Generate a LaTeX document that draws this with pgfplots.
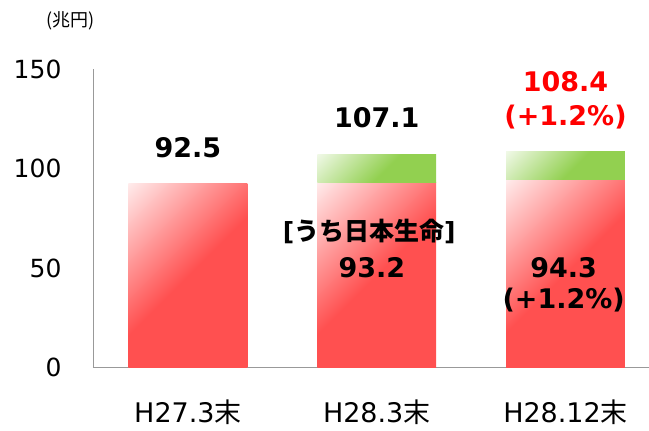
\documentclass[border=0pt]{standalone}
\usepackage{pgfplots}
\pgfplotsset{compat=1.18}
\usepackage{fontspec}
\setmainfont{DejaVu Sans}
\newfontfamily\cjk{Noto Sans CJK JP}
\definecolor{labred}{RGB}{255,0,0}
\pgfdeclarehorizontalshading{redfade}{100bp}{rgb(0bp)=(1,1,1); rgb(10bp)=(1,1,1); rgb(50bp)=(1,0.3137,0.3137); rgb(100bp)=(1,0.3137,0.3137)}
\pgfdeclarehorizontalshading{greenfade}{100bp}{rgb(0bp)=(1,1,1); rgb(8bp)=(1,1,1); rgb(55bp)=(0.5725,0.8157,0.3137); rgb(100bp)=(0.5725,0.8157,0.3137)}
\tikzset{lab/.style={font=\bfseries\fontsize{27}{30}\selectfont}}
\pgfplotsset{
 common/.style={at={(93pt,63pt)}, anchor=south west, scale only axis, width=556pt, height=299pt,
  xmin=-0.503, xmax=2.44, ymin=0, ymax=150, clip=false},
 redbar/.style={draw=none, shade, shading=redfade, shading angle=-45},
 greenbar/.style={draw=none, shade, shading=greenfade, shading angle=-45},
}
\begin{document}
\begin{tikzpicture}
\path (0,0) rectangle (649pt,431pt);
% main axis with red (Nippon Life) bars
\begin{axis}[common,
 ybar, bar width=119pt, bar shift=0pt,
 axis x line*=bottom, axis y line*=left,
 axis line style={draw=gray!80, line width=0.8pt},
 major tick length=0pt,
 xtick={0,1,2}, xticklabels={H27.3{\cjk 末}, H28.3{\cjk 末}, H28.12{\cjk 末}},
 ytick={0,50,100,150},
 yticklabel style={font=\fontsize{25}{30}\selectfont, xshift=-28pt},
 xticklabel style={font=\fontsize{27}{32}\selectfont, yshift=-29pt},
 /pgf/number format/assume math mode=true,
]
\addplot[redbar] coordinates {(0,92.5)};
\addplot[redbar] coordinates {(1,93.2)};
\addplot[redbar] coordinates {(2,94.3)};
\end{axis}
% green segment H28.3
\begin{axis}[common, hide axis, ybar stacked, bar width=119pt]
\addplot[draw=none, fill=none] coordinates {(1,93.2)};
\addplot[greenbar] coordinates {(1,13.9)};
\end{axis}
% green segment H28.12
\begin{axis}[common, hide axis, ybar stacked, bar width=119pt]
\addplot[draw=none, fill=none] coordinates {(2,94.3)};
\addplot[greenbar] coordinates {(2,14.1)};
\end{axis}
% labels
\begin{axis}[common, hide axis]
\node[lab] at (axis cs:0,110.4) {92.5};
\node[lab] at (axis cs:1,125.4) {107.1};
\node[lab, text=labred] at (axis cs:2,143.5) {108.4};
\node[lab, text=labred] at (axis cs:2,126) {(+1.2\%)};
\node[font=\bfseries\fontsize{25}{30}\selectfont] at (axis cs:0.96,68.2) {[{\cjk\bfseries うち日本生命}]};
\node[lab] at (axis cs:0.974,50.2) {93.2};
\node[lab] at (axis cs:1.99,50.2) {94.3};
\node[lab] at (axis cs:1.99,34.1) {(+1.2\%)};
\node[font=\fontsize{18}{20}\selectfont] at (axis cs:-0.62,174.2) {{\cjk (兆円)}};
\end{axis}
\end{tikzpicture}
\end{document}
